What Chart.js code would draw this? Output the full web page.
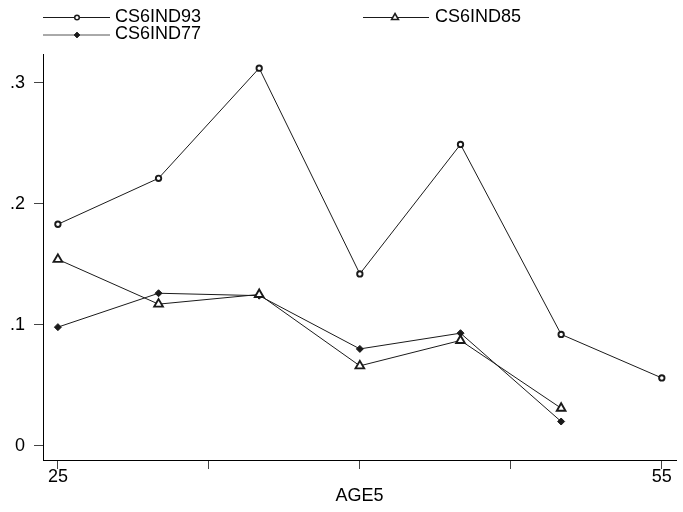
<!DOCTYPE html>
<html>
<head>
<meta charset="utf-8">
<script src="https://cdn.jsdelivr.net/npm/chart.js@4/dist/chart.umd.min.js"></script>
<style>
  html, body { margin: 0; padding: 0; background: #fff; }
  #wrap { width: 683px; height: 512px; position: relative; }
</style>
</head>
<body>
<div id="wrap"><canvas id="c" width="683" height="512"></canvas></div>
<script>
// ---- data ----
const ages = [25, 30, 35, 40, 45, 50, 55];
const cs6ind93 = [0.183, 0.221, 0.312, 0.142, 0.249, 0.092, 0.056];
const cs6ind85 = [0.154, 0.117, 0.125, 0.066, 0.087, 0.031, null];
const cs6ind77 = [0.098, 0.126, 0.124, 0.080, 0.093, 0.020, null];
const seriesNames = ['CS6IND93', 'CS6IND85', 'CS6IND77'];
const xTicks = [25, 32.5, 40, 47.5, 55];
const xLabelled = [25, 55];
const yTicks = [0, 0.1, 0.2, 0.3];
const xTitle = 'AGE5';

const FONT = "'Liberation Sans', Arial, sans-serif";
const INK = '#1a1a1a';

function toPoints(vals) {
  const out = [];
  vals.forEach((v, i) => { if (v !== null) out.push({ x: ages[i], y: v }); });
  return out;
}

const styles = [
  { pointStyle: 'circle', radius: 2.7, fill: '#fff', bw: 1.9 },
  { pointStyle: 'triangle', radius: 5, fill: '#fff', bw: 1.9 },
  { pointStyle: 'rectRot', radius: 3.5, fill: INK, bw: 1 }
];
const seriesVals = [cs6ind93, cs6ind85, cs6ind77];

const datasets = seriesVals.map((vals, i) => ({
  label: seriesNames[i],
  data: toPoints(vals),
  borderColor: INK,
  borderWidth: 1,
  pointStyle: styles[i].pointStyle,
  pointRadius: styles[i].radius,
  pointBackgroundColor: styles[i].fill,
  pointBorderColor: INK,
  pointBorderWidth: styles[i].bw,
  tension: 0,
  fill: false
}));

// legend positions (row/column layout like the reference)
const legendSlots = [
  { x0: 43, x1: 110, mx: 77, tx: 115, y: 17 },   // CS6IND93
  { x0: 363, x1: 429, mx: 395, tx: 435, y: 17 }, // CS6IND85
  { x0: 43, x1: 110, mx: 77, tx: 115, y: 34.5 }  // CS6IND77
];
const legendMarkerScale = [0.85, 0.8, 0.85];

const legendPlugin = {
  id: 'stataLegend',
  afterDraw(chart) {
    const ctx = chart.ctx;
    ctx.save();
    chart.data.datasets.forEach((ds, i) => {
      const s = legendSlots[i];
      ctx.strokeStyle = i === 2 ? '#555' : INK;
      ctx.lineWidth = 1;
      ctx.beginPath();
      ctx.moveTo(s.x0, s.y + 0.5);
      ctx.lineTo(s.x1, s.y + 0.5);
      ctx.stroke();
      ctx.fillStyle = styles[i].fill;
      ctx.strokeStyle = INK;
      ctx.lineWidth = styles[i].bw * 0.8;
      Chart.helpers.drawPoint(ctx, {
        pointStyle: styles[i].pointStyle,
        radius: styles[i].radius * legendMarkerScale[i],
        borderWidth: styles[i].bw * 0.8,
        rotation: 0
      }, s.mx, s.y + 0.5);
      ctx.fillStyle = '#000';
      ctx.font = '18px ' + FONT;
      ctx.textAlign = 'left';
      ctx.textBaseline = 'middle';
      ctx.fillText(ds.label, s.tx, s.y);
    });
    ctx.restore();
  }
};

new Chart(document.getElementById('c'), {
  type: 'line',
  data: { datasets },
  plugins: [legendPlugin],
  options: {
    responsive: false,
    animation: false,
    devicePixelRatio: 1,
    layout: { padding: { top: 54, right: 2, bottom: 0, left: 0 } },
    plugins: { legend: { display: false }, tooltip: { enabled: false } },
    scales: {
      x: {
        type: 'linear',
        min: 24.26,
        max: 55.71,
        afterFit(scale) { scale.height = 52; },
        afterBuildTicks(scale) { scale.ticks = xTicks.map(v => ({ value: v })); },
        grid: {
          display: true,
          drawOnChartArea: false,
          drawTicks: true,
          tickLength: 9,
          tickColor: '#444',
          tickWidth: 1
        },
        border: { display: true, color: '#000', width: 1 },
        ticks: {
          autoSkip: false,
          maxRotation: 0,
          padding: -3,
          color: '#000',
          font: { family: FONT, size: 18 },
          callback: (v) => xLabelled.includes(v) ? String(v) : ''
        },
        title: {
          display: true,
          text: xTitle,
          color: '#000',
          font: { family: FONT, size: 18 },
          padding: { top: 0, bottom: 5 }
        }
      },
      y: {
        type: 'linear',
        min: -0.0118,
        max: 0.3237,
        afterFit(scale) { scale.width = 43; },
        afterBuildTicks(scale) { scale.ticks = yTicks.map(v => ({ value: v })); },
        grid: {
          display: true,
          drawOnChartArea: false,
          drawTicks: true,
          tickLength: 9,
          tickColor: '#444',
          tickWidth: 1
        },
        border: { display: true, color: '#000', width: 1 },
        ticks: {
          padding: 9,
          color: '#000',
          font: { family: FONT, size: 18 },
          callback: (v) => v === 0 ? '0' : String(Math.round(v * 10) / 10).replace(/^0/, '')
        }
      }
    }
  }
});
</script>
</body>
</html>
